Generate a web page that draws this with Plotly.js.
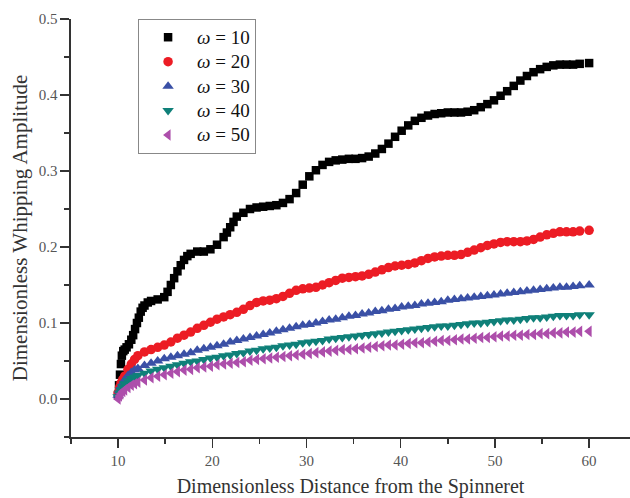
<!DOCTYPE html>
<html>
<head>
<meta charset="utf-8">
<script src="https://cdn.plot.ly/plotly-3.0.1.min.js"></script>
<style>
html,body{margin:0;padding:0;background:#fff;}
#chart{width:630px;height:498px;}
</style>
</head>
<body>
<div id="chart"></div>
<script>
// x positions of the omega = 10 series (denser where the curve climbs steeply)
const distance10 = [10, 10.1, 10.2, 10.3, 10.4, 10.55, 10.7, 10.9, 11.15, 11.4, 11.6, 11.8, 12.0, 12.2, 12.4, 12.6,
  12.8, 13.15, 13.5, 14.2, 14.9, 15.25, 15.6, 15.95, 16.3, 16.65, 17.0, 17.35, 17.7, 18.4, 19.1, 19.8,
  20.5, 21.2, 21.55, 21.9, 22.25, 22.6, 23.3, 24.0, 24.7, 25.4, 26.1, 26.8, 27.5, 28.2, 28.9, 29.6, 30.3,
  31.0, 31.7, 32.4, 33.1, 33.8, 34.5, 35.2, 35.9, 36.6, 37.3, 38.0, 38.7, 39.4, 40.1, 40.8,
  41.5, 42.2, 42.9, 43.6, 44.3, 45.0, 45.7, 46.4, 47.1, 47.8, 48.5, 49.2, 49.9, 50.6, 51.3,
  52.0, 52.7, 53.4, 54.1, 54.8, 55.5, 56.2, 56.9, 57.6, 58.3, 59.0, 60];

const omega10 = [0.005, 0.018, 0.032, 0.046, 0.057, 0.063, 0.065, 0.068, 0.072, 0.078, 0.084, 0.092, 0.100, 0.107, 0.115, 0.120,
  0.123, 0.127, 0.129, 0.131, 0.134, 0.141, 0.150, 0.159, 0.168, 0.176, 0.183, 0.188, 0.191, 0.194, 0.194, 0.197,
  0.203, 0.213, 0.219, 0.226, 0.233, 0.240, 0.245, 0.250, 0.252, 0.253, 0.254, 0.255, 0.258, 0.263, 0.271, 0.282, 0.293,
  0.301, 0.308, 0.312, 0.314, 0.315, 0.316, 0.316, 0.317, 0.319, 0.323, 0.329, 0.336, 0.345, 0.353, 0.360,
  0.366, 0.370, 0.373, 0.375, 0.376, 0.377, 0.377, 0.377, 0.378, 0.380, 0.384, 0.388, 0.393, 0.399, 0.405,
  0.412, 0.419, 0.425, 0.430, 0.434, 0.437, 0.439, 0.440, 0.440, 0.440, 0.441, 0.442];

// x positions shared by the omega = 20 ... 50 series
const distance = [10, 10.15, 10.3, 10.5, 10.7, 11.05, 11.4, 11.75, 12.1, 12.8, 13.5, 14.2, 14.9, 15.6, 16.3, 17.0, 17.7, 18.4, 19.1, 19.8,
  20.5, 21.2, 21.9, 22.6, 23.3, 24.0, 24.7, 25.4, 26.1, 26.8, 27.5, 28.2, 28.9, 29.6, 30.3,
  31.0, 31.7, 32.4, 33.1, 33.8, 34.5, 35.2, 35.9, 36.6, 37.3, 38.0, 38.7, 39.4, 40.1, 40.8,
  41.5, 42.2, 42.9, 43.6, 44.3, 45.0, 45.7, 46.4, 47.1, 47.8, 48.5, 49.2, 49.9, 50.6, 51.3,
  52.0, 52.7, 53.4, 54.1, 54.8, 55.5, 56.2, 56.9, 57.6, 58.3, 59.0, 60];

const omega20 = [0.008, 0.015, 0.021, 0.026, 0.030, 0.039, 0.046, 0.052, 0.057, 0.062, 0.065, 0.068, 0.071, 0.075, 0.080, 0.084, 0.088, 0.093, 0.097, 0.101,
  0.105, 0.108, 0.111, 0.114, 0.118, 0.123, 0.127, 0.129, 0.130, 0.132, 0.135, 0.139, 0.143, 0.145, 0.146,
  0.147, 0.150, 0.153, 0.156, 0.159, 0.160, 0.161, 0.162, 0.164, 0.167, 0.170, 0.173, 0.175, 0.176, 0.177,
  0.179, 0.182, 0.185, 0.187, 0.188, 0.189, 0.189, 0.190, 0.193, 0.196, 0.199, 0.202, 0.204, 0.206, 0.207,
  0.207, 0.207, 0.208, 0.210, 0.213, 0.216, 0.218, 0.220, 0.220, 0.220, 0.221, 0.222];

const omega30 = [0.005, 0.011, 0.016, 0.021, 0.025, 0.031, 0.035, 0.038, 0.040, 0.044, 0.047, 0.050, 0.053, 0.055, 0.057, 0.059, 0.061, 0.064, 0.066, 0.068,
  0.070, 0.072, 0.075, 0.077, 0.079, 0.081, 0.083, 0.085, 0.087, 0.089, 0.091, 0.093, 0.095, 0.097, 0.098,
  0.100, 0.102, 0.104, 0.105, 0.107, 0.109, 0.110, 0.112, 0.113, 0.115, 0.116, 0.118, 0.119, 0.121, 0.122,
  0.123, 0.125, 0.126, 0.127, 0.128, 0.130, 0.131, 0.132, 0.133, 0.134, 0.135, 0.136, 0.137, 0.138, 0.139,
  0.140, 0.141, 0.142, 0.143, 0.144, 0.145, 0.146, 0.147, 0.147, 0.148, 0.149, 0.150];

const omega40 = [0.003, 0.008, 0.012, 0.016, 0.020, 0.024, 0.027, 0.029, 0.031, 0.034, 0.037, 0.039, 0.041, 0.043, 0.045, 0.047, 0.049, 0.050, 0.052, 0.054,
  0.055, 0.057, 0.058, 0.060, 0.061, 0.063, 0.064, 0.066, 0.067, 0.068, 0.070, 0.071, 0.072, 0.074, 0.075,
  0.076, 0.077, 0.079, 0.080, 0.081, 0.082, 0.083, 0.084, 0.085, 0.086, 0.087, 0.088, 0.089, 0.090, 0.091,
  0.092, 0.093, 0.094, 0.095, 0.096, 0.096, 0.097, 0.098, 0.099, 0.100, 0.100, 0.101, 0.102, 0.103, 0.104,
  0.104, 0.105, 0.106, 0.107, 0.107, 0.108, 0.109, 0.110, 0.110, 0.110, 0.111, 0.111];

const omega50 = [0.000, 0.004, 0.007, 0.010, 0.012, 0.015, 0.018, 0.020, 0.022, 0.025, 0.028, 0.030, 0.032, 0.034, 0.036, 0.038, 0.039, 0.041, 0.042, 0.043,
  0.045, 0.046, 0.047, 0.048, 0.049, 0.051, 0.052, 0.053, 0.054, 0.055, 0.056, 0.057, 0.058, 0.059, 0.060,
  0.061, 0.062, 0.063, 0.064, 0.065, 0.065, 0.066, 0.067, 0.068, 0.069, 0.070, 0.071, 0.071, 0.072, 0.073,
  0.074, 0.074, 0.075, 0.076, 0.077, 0.077, 0.078, 0.079, 0.079, 0.080, 0.081, 0.081, 0.082, 0.083, 0.083,
  0.084, 0.084, 0.085, 0.085, 0.086, 0.086, 0.087, 0.087, 0.088, 0.088, 0.089, 0.089];

const seriesLabels = ['10', '20', '30', '40', '50'];
const seriesX = [distance10, distance, distance, distance, distance];
const seriesValues = [omega10, omega20, omega30, omega40, omega50];
const seriesColors = ['#000000', '#EC1C24', '#3A50A6', '#0F8079', '#AD4EAB'];
const seriesSymbols = ['square', 'circle', 'triangle-up', 'triangle-down', 'triangle-left'];
const seriesSizes = [8.5, 9.5, 10, 10, 10];

const xTicks = [10, 20, 30, 40, 50, 60];
const yTicks = [0.0, 0.1, 0.2, 0.3, 0.4, 0.5];

const serif = '"Liberation Serif", "Times New Roman", Times, serif';

const traces = seriesValues.map((vals, i) => ({
  type: 'scatter',
  mode: 'markers',
  x: seriesX[i],
  y: vals,
  name: '<span style="font-size:19px"><i>ω</i> = ' + seriesLabels[i] + '</span>',
  marker: {symbol: seriesSymbols[i], size: seriesSizes[i], color: seriesColors[i], line: {width: 0}},
  hoverinfo: 'skip'
}));

const axisCommon = {
  showline: true, linecolor: '#333', linewidth: 1.6,
  showgrid: false, zeroline: false, automargin: false,
  ticks: 'outside', ticklen: 9, tickwidth: 1.5, tickcolor: '#333',
  tickfont: {family: serif, size: 15, color: '#555'},
  fixedrange: true
};

const layout = {
  width: 630, height: 498,
  margin: {l: 71, r: 0, t: 19, b: 61, pad: 0},
  paper_bgcolor: '#ffffff', plot_bgcolor: '#ffffff',
  font: {family: serif, color: '#222'},
  showlegend: true,
  legend: {
    x: 0.12, y: 1.0, xanchor: 'left', yanchor: 'top',
    bordercolor: '#888', borderwidth: 1, bgcolor: '#ffffff',
    font: {family: serif, size: 16.5, color: '#111'},
    itemwidth: 48, tracegroupgap: 0
  },
  xaxis: Object.assign({}, axisCommon, {
    range: [5, 64.34],
    tickmode: 'array', tickvals: xTicks, ticktext: xTicks.map(String),
    minor: {dtick: 5, tick0: 0, ticks: 'outside', ticklen: 5, tickwidth: 1.5, tickcolor: '#333'},
    title: {text: 'Dimensionless Distance from the Spinneret', font: {family: serif, size: 20, color: '#333'}, standoff: 13}
  }),
  yaxis: Object.assign({}, axisCommon, {
    range: [-0.05, 0.5],
    tickmode: 'array', tickvals: yTicks, ticktext: yTicks.map(v => v.toFixed(1)),
    minor: {dtick: 0.05, tick0: 0, ticks: 'outside', ticklen: 5, tickwidth: 1.5, tickcolor: '#333'},
    title: {text: 'Dimensionless Whipping Amplitude', font: {family: serif, size: 21, color: '#333'}, standoff: 5}
  })
};

Plotly.newPlot('chart', traces, layout, {displayModeBar: false, staticPlot: true});
</script>
</body>
</html>
